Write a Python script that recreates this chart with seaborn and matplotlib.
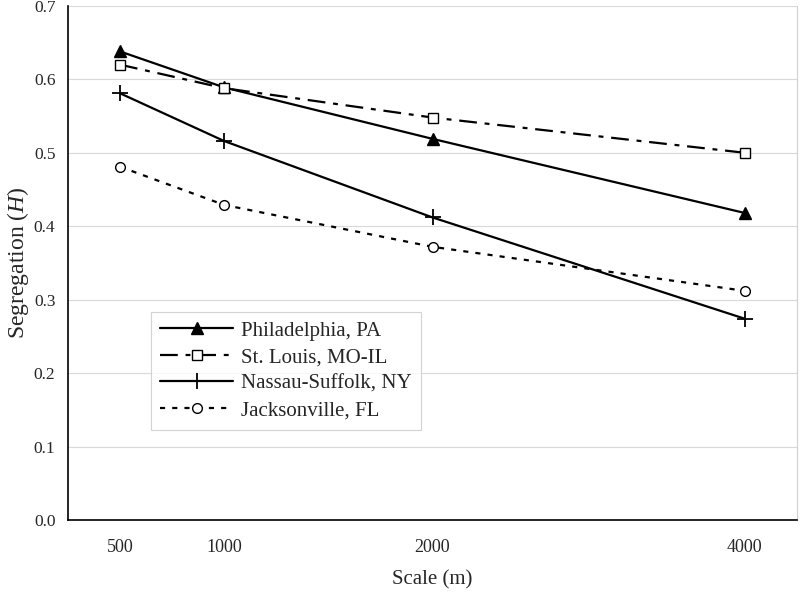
import numpy as np
import pandas as pd
import seaborn as sns
import matplotlib.pyplot as plt
from matplotlib.ticker import FixedLocator, FixedFormatter

# Data
scale_m = [500, 1000, 2000, 4000]
# category slots of the (Excel-style) category axis; blank slots have no label
axis_slots = ["500", "1000", "", "2000", "", "", "4000"]

philadelphia = [0.638, 0.589, 0.519, 0.418]
st_louis = [0.620, 0.588, 0.548, 0.500]
nassau_suffolk = [0.581, 0.516, 0.412, 0.274]
jacksonville = [0.481, 0.429, 0.372, 0.312]

names = ["Philadelphia, PA", "St. Louis, MO-IL", "Nassau-Suffolk, NY", "Jacksonville, FL"]
series = [philadelphia, st_louis, nassau_suffolk, jacksonville]

rows = []
for name, vals in zip(names, series):
    for s, v in zip(scale_m, vals):
        rows.append({"city": name, "scale": s, "slot": axis_slots.index(str(s)), "H": v})
df = pd.DataFrame(rows)

sns.set_theme(style="white")
plt.rcParams["font.family"] = ["Liberation Serif", "DejaVu Serif"]
plt.rcParams["mathtext.fontset"] = "custom"
plt.rcParams["mathtext.it"] = "Liberation Serif:italic"
plt.rcParams["mathtext.rm"] = "Liberation Serif"

styles = {
    "Philadelphia, PA": dict(linestyle="-", marker="^", markersize=9, markerfacecolor="black"),
    "St. Louis, MO-IL": dict(linestyle=(0, (8, 3.5, 2.2, 3.5)), marker="s", markersize=7.5,
                             markerfacecolor="white"),
    "Nassau-Suffolk, NY": dict(linestyle="-", marker="+", markersize=11, markeredgewidth=1.3),
    "Jacksonville, FL": dict(linestyle=(0, (2.3, 3.2)), marker="o", markersize=7,
                             markerfacecolor="white"),
}

fig, ax = plt.subplots(figsize=(8, 5.92), dpi=100)
fig.subplots_adjust(left=0.085, right=0.99625, top=0.99, bottom=0.1216)

for name in names:
    kw = dict(styles[name])
    kw.setdefault("markeredgewidth", 1.0)
    sns.lineplot(data=df[df.city == name], x="slot", y="H", color="black", linewidth=1.6,
                 markeredgecolor="black", label=name, ax=ax, legend=False, **kw)

ax.set_xlim(-0.5, len(axis_slots) - 0.5)
ax.set_ylim(0, 0.7)
ax.set_yticks(np.arange(0, 0.71, 0.1))
ax.set_yticklabels([f"{v:.1f}" for v in np.arange(0, 0.71, 0.1)])
ax.yaxis.grid(True, color="#d9d9d9", linewidth=0.8)
ax.set_axisbelow(True)

# tick marks between categories, labels at category centres
ax.xaxis.set_major_locator(FixedLocator(np.arange(-0.5, len(axis_slots), 1.0)))
ax.xaxis.set_major_formatter(FixedFormatter([""] * (len(axis_slots) + 1)))
label_pos = [i for i, t in enumerate(axis_slots) if t]
ax.xaxis.set_minor_locator(FixedLocator(label_pos))
ax.xaxis.set_minor_formatter(FixedFormatter([axis_slots[i] for i in label_pos]))
ax.tick_params(axis="x", which="major", direction="out", length=5, width=1, color="black")
ax.tick_params(axis="x", which="minor", length=0, pad=14, labelsize=13)
ax.tick_params(axis="y", direction="out", length=5, width=1, color="black", labelsize=12.5, pad=4)

for side in ["left", "bottom"]:
    ax.spines[side].set_color("black")
    ax.spines[side].set_linewidth(1.2)
ax.spines["right"].set_color("#d0d0d0")
ax.spines["right"].set_linewidth(0.8)
ax.spines["top"].set_visible(False)

ax.set_xlabel("Scale (m)", fontsize=15, labelpad=10)
ax.set_ylabel("Segregation ($H$)", fontsize=17, labelpad=2)

leg = ax.legend(loc="upper left", bbox_to_anchor=(0.114, 0.405), borderaxespad=0,
                fontsize=15, handlelength=3.5, labelspacing=0.33, frameon=True,
                fancybox=False, borderpad=0.45, handletextpad=0.35)
leg.get_frame().set_edgecolor("#c8c8c8")
leg.get_frame().set_linewidth(0.8)

fig.savefig("out.png", dpi=100)
